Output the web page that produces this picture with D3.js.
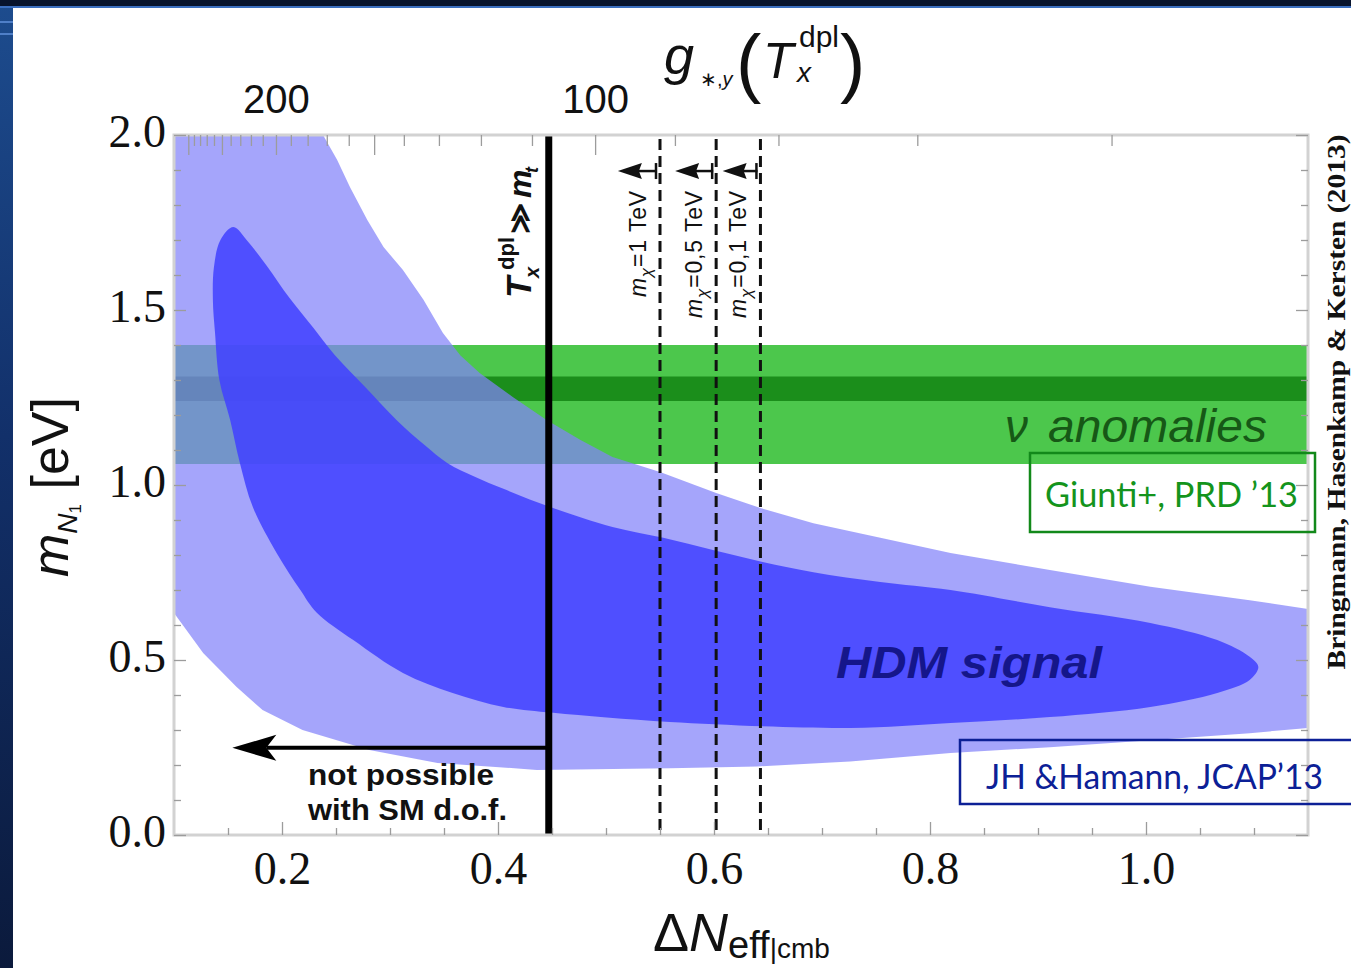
<!DOCTYPE html>
<html>
<head>
<meta charset="utf-8">
<script src="https://cdn.jsdelivr.net/npm/d3@7"></script>
<style>
  html, body { margin: 0; padding: 0; background: #fff; }
  svg { display: block; }
  .tick line { stroke: #9c9c9c; stroke-width: 1.3; }
</style>
</head>
<body>
<script>
// ---- data ----
const xDomain = [0.1, 1.15];
const yDomain = [0, 2];
const xLabels = [0.2, 0.4, 0.6, 0.8, 1.0];
const xMinor = [0.15, 0.25, 0.3, 0.35, 0.45, 0.5, 0.55, 0.65, 0.7, 0.75, 0.85, 0.9, 0.95, 1.05, 1.1];
const yLabels = [0.0, 0.5, 1.0, 1.5, 2.0];
const yMinor = [0.1, 0.2, 0.3, 0.4, 0.6, 0.7, 0.8, 0.9, 1.1, 1.2, 1.3, 1.4, 1.6, 1.7, 1.8, 1.9];
const gTicks = [60, 70, 80, 90, 110, 120, 130, 140, 160, 170, 180, 190, 210, 220, 230, 240, 260, 270, 280, 290];
const gMajor = [100, 150, 200, 250, 300];
const gLabels = [100, 200];
const gConst = 227.4;   // dN_eff = gConst * g^(-4/3)

// 95% region (light) and 68% region (dark), [dN_eff, m_N1]
const outerRegion = [
  [0.1, 2.0], [0.238, 2.0], [0.251, 1.929], [0.263, 1.851], [0.279, 1.757], [0.294, 1.680],
  [0.312, 1.614], [0.331, 1.529], [0.349, 1.434], [0.365, 1.371], [0.383, 1.320], [0.414, 1.251],
  [0.445, 1.186], [0.476, 1.129], [0.506, 1.080], [0.550, 1.037], [0.602, 0.977], [0.643, 0.934],
  [0.692, 0.891], [0.754, 0.849], [0.819, 0.806], [0.911, 0.757], [1.004, 0.709], [1.096, 0.671],
  [1.15, 0.646], [1.15, 0.306], [1.096, 0.291], [1.004, 0.271], [0.911, 0.251], [0.819, 0.234],
  [0.726, 0.210], [0.640, 0.196], [0.559, 0.191], [0.436, 0.186], [0.344, 0.206], [0.281, 0.243],
  [0.219, 0.300], [0.182, 0.357], [0.158, 0.423], [0.127, 0.520], [0.1, 0.634]
];
const innerRegion = [
  [0.155, 1.737], [0.168, 1.697], [0.186, 1.626], [0.207, 1.534], [0.229, 1.449], [0.249, 1.371],
  [0.277, 1.280], [0.306, 1.186], [0.332, 1.114], [0.353, 1.063], [0.379, 1.023], [0.405, 0.989],
  [0.451, 0.934], [0.506, 0.880], [0.553, 0.849], [0.599, 0.814], [0.645, 0.780], [0.692, 0.751],
  [0.754, 0.723], [0.819, 0.700], [0.911, 0.651], [1.004, 0.606], [1.066, 0.557], [1.096, 0.509],
  [1.104, 0.480], [1.096, 0.443], [1.066, 0.406], [1.004, 0.366], [0.911, 0.337], [0.819, 0.320],
  [0.726, 0.306], [0.559, 0.323], [0.451, 0.349], [0.405, 0.366], [0.358, 0.406], [0.312, 0.463],
  [0.266, 0.557], [0.232, 0.636], [0.217, 0.700], [0.195, 0.806], [0.173, 0.937], [0.161, 1.063],
  [0.152, 1.186], [0.142, 1.300], [0.138, 1.434], [0.136, 1.529], [0.137, 1.623], [0.143, 1.700]
];
const anomalyBand = [1.06, 1.40];
const anomalyCore = [1.24, 1.31];

const smLine = 0.447;              // T_x^dpl >> m_t
const smArrow = { from: 0.447, to: 0.154, m: 0.249 };
const mchiLines = [0.550, 0.602, 0.643];
const mchiTips = [0.511, 0.564, 0.608];
const mchiArrowM = 1.897;
const mchiValues = ['1', '0,5', '0,1'];

// ---- layout ----
const W = 1351, H = 968;
const plot = { left: 174, right: 1308, top: 135, bottom: 835 };

const x = d3.scaleLinear().domain(xDomain).range([plot.left, plot.right]);
const y = d3.scaleLinear().domain(yDomain).range([plot.bottom, plot.top]);
const gAt = dn => Math.pow(gConst / dn, 0.75);
const g = d3.scalePow().exponent(-4 / 3).domain([gAt(xDomain[0]), gAt(xDomain[1])]).range([plot.left, plot.right]);

const svg = d3.select('body').append('svg').attr('width', W).attr('height', H);
const defs = svg.append('defs');

// slide background bits
const grad = defs.append('linearGradient').attr('id', 'side').attr('x1', 0).attr('y1', 0).attr('x2', 0).attr('y2', 1);
grad.append('stop').attr('offset', '0%').attr('stop-color', '#1d4c8e');
grad.append('stop').attr('offset', '45%').attr('stop-color', '#12306a');
grad.append('stop').attr('offset', '100%').attr('stop-color', '#0b1a3c');
svg.append('rect').attr('x', 0).attr('y', 0).attr('width', 13).attr('height', H).attr('fill', 'url(#side)');
svg.append('rect').attr('x', 0).attr('y', 0).attr('width', W).attr('height', 6).attr('fill', '#08142d');
svg.append('rect').attr('x', 0).attr('y', 6).attr('width', W).attr('height', 2).attr('fill', '#3b6fbf');
[21, 33].forEach(v => svg.append('rect').attr('x', 0).attr('y', v).attr('width', 13).attr('height', 2).attr('fill', '#4f7fc8'));

defs.append('clipPath').attr('id', 'plotclip').append('rect')
  .attr('x', plot.left).attr('y', plot.top)
  .attr('width', plot.right - plot.left).attr('height', plot.bottom - plot.top);

const area = svg.append('g').attr('clip-path', 'url(#plotclip)');

// green anomaly bands
area.append('rect')
  .attr('x', plot.left).attr('width', plot.right - plot.left)
  .attr('y', y(anomalyBand[1])).attr('height', y(anomalyBand[0]) - y(anomalyBand[1]))
  .attr('fill', '#4cc74c');
area.append('rect')
  .attr('x', plot.left).attr('width', plot.right - plot.left)
  .attr('y', y(anomalyCore[1])).attr('height', y(anomalyCore[0]) - y(anomalyCore[1]))
  .attr('fill', '#1b8e1b');

// HDM regions
const line = d3.line().x(d => x(d[0])).y(d => y(d[1]));
area.append('path')
  .attr('d', line(outerRegion) + 'Z')
  .attr('fill', 'rgb(130,130,250)').attr('fill-opacity', 0.72);
area.append('path')
  .attr('d', line.curve(d3.curveCatmullRomClosed.alpha(0.5))(innerRegion))
  .attr('fill', 'rgb(65,65,255)').attr('fill-opacity', 0.86);

// dashed m_chi lines
area.selectAll('.mchi')
  .data(mchiLines)
  .enter().append('line')
  .attr('class', 'mchi')
  .attr('x1', d => x(d)).attr('x2', d => x(d))
  .attr('y1', y(yDomain[1]) + 4).attr('y2', y(yDomain[0]))
  .attr('stroke', '#111').attr('stroke-width', 3)
  .attr('stroke-dasharray', '11,6');

// small arrows at top
mchiLines.forEach((d, i) => {
  const yy = y(mchiArrowM), xt = x(mchiTips[i]), x0 = x(d);
  area.append('line').attr('x1', x0 - 3).attr('x2', xt + 18).attr('y1', yy).attr('y2', yy)
    .attr('stroke', '#111').attr('stroke-width', 2.5);
  area.append('line').attr('x1', x0 - 4).attr('x2', x0 - 4).attr('y1', yy - 8).attr('y2', yy + 8)
    .attr('stroke', '#111').attr('stroke-width', 2.5);
  area.append('path')
    .attr('d', `M${xt},${yy} L${xt + 24},${yy - 8} L${xt + 21},${yy} L${xt + 24},${yy + 8} Z`)
    .attr('fill', '#111');
});

// SM line and arrow
area.append('line')
  .attr('x1', x(smLine)).attr('x2', x(smLine))
  .attr('y1', y(yDomain[1])).attr('y2', y(yDomain[0]))
  .attr('stroke', '#000').attr('stroke-width', 7);
{
  const yy = y(smArrow.m), xt = x(smArrow.to);
  area.append('line').attr('x1', x(smArrow.from)).attr('x2', xt + 34).attr('y1', yy).attr('y2', yy)
    .attr('stroke', '#000').attr('stroke-width', 4);
  area.append('path')
    .attr('d', `M${xt},${yy} L${xt + 44},${yy - 13} L${xt + 34},${yy} L${xt + 44},${yy + 13} Z`)
    .attr('fill', '#000');
}

// ---- frame and axes ----
svg.append('rect')
  .attr('x', plot.left).attr('y', plot.top)
  .attr('width', plot.right - plot.left).attr('height', plot.bottom - plot.top)
  .attr('fill', 'none').attr('stroke', '#d2d2d2').attr('stroke-width', 3);

function styleAxis(sel) {
  sel.select('.domain').remove();
}
const serif = '"Liberation Serif", "DejaVu Serif", serif';
const sans = '"Liberation Sans", Arial, sans-serif';

svg.append('g').attr('transform', `translate(0,${plot.bottom})`)
  .call(d3.axisBottom(x).tickValues(xMinor).tickSize(-7).tickFormat(''))
  .call(styleAxis);
svg.append('g').attr('transform', `translate(0,${plot.bottom})`)
  .call(d3.axisBottom(x).tickValues(xLabels).tickSize(-13).tickPadding(16).tickFormat(d3.format('.1f')))
  .call(styleAxis)
  .selectAll('text').attr('font-family', serif).attr('font-size', 46).attr('fill', '#111');

svg.append('g').attr('transform', `translate(${plot.left},0)`)
  .call(d3.axisLeft(y).tickValues(yMinor).tickSize(-7).tickFormat(''))
  .call(styleAxis);
svg.append('g').attr('transform', `translate(${plot.left},0)`)
  .call(d3.axisLeft(y).tickValues(yLabels).tickSize(-12).tickPadding(8).tickFormat(d3.format('.1f')))
  .call(styleAxis)
  .selectAll('text').attr('font-family', serif).attr('font-size', 46).attr('fill', '#111').attr('dy', '0.25em');

svg.append('g').attr('transform', `translate(${plot.right},0)`)
  .call(d3.axisRight(y).tickValues(yMinor).tickSize(-7).tickFormat(''))
  .call(styleAxis);
svg.append('g').attr('transform', `translate(${plot.right},0)`)
  .call(d3.axisRight(y).tickValues(yLabels).tickSize(-12).tickFormat(''))
  .call(styleAxis);

svg.append('g').attr('transform', `translate(0,${plot.top})`)
  .call(d3.axisTop(g).tickValues(gTicks).tickSize(-11).tickFormat(''))
  .call(styleAxis);
svg.append('g').attr('transform', `translate(0,${plot.top})`)
  .call(d3.axisTop(g).tickValues(gMajor).tickSize(-20).tickPadding(22)
    .tickFormat(d => gLabels.includes(d) ? d3.format('d')(d) : ''))
  .call(styleAxis)
  .selectAll('text').attr('font-family', sans).attr('font-size', 40).attr('fill', '#111');

// ---- titles ----
// top: g_{*,y}(T_x^dpl)
const topTitle = svg.append('g').attr('font-family', sans).attr('fill', '#111');
topTitle.append('text').attr('x', 664).attr('y', 74).attr('font-size', 54).attr('font-style', 'italic').text('g');
topTitle.append('text').attr('x', 700).attr('y', 86).attr('font-size', 20)
  .call(t => { t.append('tspan').text('∗,'); t.append('tspan').attr('font-style', 'italic').text('y'); });
topTitle.append('text').attr('x', 736).attr('y', 88).attr('font-size', 76).text('(');
topTitle.append('text').attr('x', 763).attr('y', 78).attr('font-size', 50).attr('font-style', 'italic').text('T');
topTitle.append('text').attr('x', 799).attr('y', 47).attr('font-size', 30).text('dpl');
topTitle.append('text').attr('x', 797).attr('y', 82).attr('font-size', 28).attr('font-style', 'italic').text('x');
topTitle.append('text').attr('x', 840).attr('y', 88).attr('font-size', 76).text(')');

// bottom: Delta N_eff|cmb
svg.append('text').attr('x', 653).attr('y', 951).attr('font-family', sans).attr('fill', '#111')
  .call(t => {
    t.append('tspan').attr('font-size', 54).text('Δ');
    t.append('tspan').attr('font-size', 54).attr('font-style', 'italic').text('N');
    t.append('tspan').attr('font-size', 38).attr('dy', 7).text('eff');
    t.append('tspan').attr('font-size', 28).attr('dy', 0).text('|cmb');
  });

// left: m_N1 [eV]
svg.append('text').attr('transform', 'translate(68,487) rotate(-90)')
  .attr('text-anchor', 'middle').attr('font-family', sans).attr('fill', '#111')
  .call(t => {
    t.append('tspan').attr('font-size', 52).attr('font-style', 'italic').text('m');
    t.append('tspan').attr('font-size', 28).attr('font-style', 'italic').attr('dy', 9).text('N');
    t.append('tspan').attr('font-size', 17).attr('dy', 4).text('1');
    t.append('tspan').attr('font-size', 52).attr('dy', -13).text(' [eV]');
  });

// right credit
svg.append('text').attr('transform', 'translate(1345,402) rotate(-90)')
  .attr('text-anchor', 'middle').attr('font-family', serif).attr('font-weight', 'bold')
  .attr('font-size', 26).attr('fill', '#111').attr('textLength', 535).attr('lengthAdjust', 'spacingAndGlyphs')
  .text('Bringmann, Hasenkamp & Kersten (2013)');

// T_x^dpl >> m_t label
const tl = svg.append('g').attr('transform', 'translate(531,300) rotate(-90)')
  .attr('font-family', sans).attr('font-weight', 'bold').attr('font-style', 'italic').attr('fill', '#111');
tl.append('text').attr('x', 2).attr('y', 0).attr('font-size', 35).text('T');
tl.append('text').attr('x', 22).attr('y', 8).attr('font-size', 20).text('x');
tl.append('text').attr('x', 30).attr('y', -17).attr('font-size', 22).attr('font-style', 'normal').text('dpl');
tl.append('text').attr('x', 66).attr('y', -1).attr('font-size', 30).attr('font-style', 'normal').text('≫');
tl.append('text').attr('x', 102).attr('y', 0).attr('font-size', 32).text('m');
tl.append('text').attr('x', 127).attr('y', 7).attr('font-size', 18).text('t');

// m_chi labels
mchiLines.forEach((d, i) => {
  svg.append('text')
    .attr('transform', `translate(${x(d) - 14},190) rotate(-90)`)
    .attr('text-anchor', 'end').attr('font-family', sans).attr('fill', '#111')
    .attr('font-size', 23).attr('letter-spacing', 0.8)
    .call(t => {
      t.append('tspan').attr('font-style', 'italic').text('m');
      t.append('tspan').attr('font-size', 17).attr('font-style', 'italic').attr('dy', 6).text('χ');
      t.append('tspan').attr('dy', -6).text('=' + mchiValues[i] + ' TeV');
    });
});

// region labels
svg.append('text').attr('x', 1005).attr('y', 442).attr('font-family', sans).attr('font-style', 'italic')
  .attr('font-size', 46).attr('fill', '#165816').text('ν');
svg.append('text').attr('x', 1048).attr('y', 442).attr('font-family', sans).attr('font-style', 'italic')
  .attr('font-size', 46).attr('fill', '#165816').attr('textLength', 219).attr('lengthAdjust', 'spacingAndGlyphs')
  .text('anomalies');
svg.append('text').attr('x', 836).attr('y', 678).attr('font-family', sans).attr('font-style', 'italic')
  .attr('font-weight', 'bold').attr('font-size', 44).attr('fill', '#15168a')
  .attr('textLength', 266).attr('lengthAdjust', 'spacingAndGlyphs').text('HDM signal');

svg.append('text').attr('x', 308).attr('y', 785).attr('font-family', sans).attr('font-weight', 'bold')
  .attr('font-size', 30).attr('fill', '#111').attr('textLength', 186).attr('lengthAdjust', 'spacingAndGlyphs')
  .text('not possible');
svg.append('text').attr('x', 308).attr('y', 820).attr('font-family', sans).attr('font-weight', 'bold')
  .attr('font-size', 30).attr('fill', '#111').attr('textLength', 199).attr('lengthAdjust', 'spacingAndGlyphs')
  .text('with SM d.o.f.');

// reference boxes
const boxFont = 'Lato, "Open Sans", sans-serif';
svg.append('rect').attr('x', 1030).attr('y', 453).attr('width', 285).attr('height', 79)
  .attr('fill', 'none').attr('stroke', '#12891a').attr('stroke-width', 2.5);
svg.append('text').attr('x', 1045).attr('y', 507).attr('font-family', boxFont).attr('font-size', 34)
  .attr('fill', '#14941c').attr('textLength', 253).attr('lengthAdjust', 'spacingAndGlyphs')
  .text('Giunti+, PRD ’13');
svg.append('rect').attr('x', 960).attr('y', 740).attr('width', 420).attr('height', 64)
  .attr('fill', 'none').attr('stroke', '#0c2096').attr('stroke-width', 2.5);
svg.append('text').attr('x', 986).attr('y', 789).attr('font-family', boxFont).attr('font-size', 35)
  .attr('fill', '#0c2096').attr('textLength', 337).attr('lengthAdjust', 'spacingAndGlyphs')
  .text('JH &Hamann, JCAP’13');
</script>
</body>
</html>
